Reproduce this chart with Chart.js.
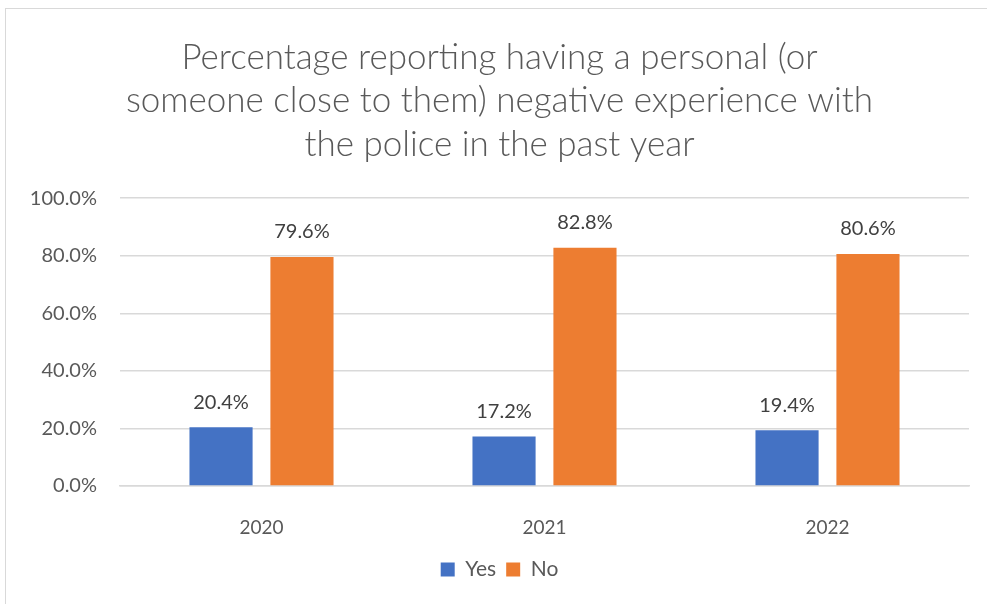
<!DOCTYPE html>
<html>
<head>
<meta charset="utf-8">
<script src="https://cdn.jsdelivr.net/npm/chart.js@4/dist/chart.umd.min.js"></script>
<style>
  html, body { margin: 0; padding: 0; background: #fff; }
  #wrap { position: relative; width: 987px; height: 604px; overflow: hidden; }
  #frame { position: absolute; left: 5px; top: 8px; width: 1000px; height: 700px; border: 1px solid #d9d9d9; box-sizing: border-box; pointer-events: none; }
  canvas { position: absolute; left: 0; top: 0; }
</style>
</head>
<body>
<div id="wrap">
  <div id="frame"></div>
  <canvas id="c" width="987" height="604"></canvas>
</div>
<script>
const titleLines = [
  "Percentage reporting having a personal (or",
  "someone close to them) negative experience with",
  "the police in the past year"
];
const categories = ["2020", "2021", "2022"];
const yesValues = [20.4, 17.2, 19.4];
const noValues = [79.6, 82.8, 80.6];
const seriesNames = ["Yes", "No"];

const FONT = "Lato, 'Open Sans', sans-serif";

const dataLabels = {
  id: 'dataLabels',
  afterDatasetsDraw(chart) {
    const ctx = chart.ctx;
    ctx.save();
    ctx.font = "20px " + FONT;
    ctx.fillStyle = "#404040";
    ctx.textAlign = "center";
    ctx.textBaseline = "middle";
    chart.data.datasets.forEach((ds, i) => {
      const meta = chart.getDatasetMeta(i);
      meta.data.forEach((bar, j) => {
        ctx.fillText(ds.data[j].toFixed(1) + "%", bar.x, bar.y - 25);
      });
    });
    ctx.restore();
  }
};

new Chart(document.getElementById('c'), {
  type: 'bar',
  data: {
    labels: categories,
    datasets: [
      { label: seriesNames[0], data: yesValues, backgroundColor: '#4472C4', categoryPercentage: 0.572, barPercentage: 0.78 },
      { label: seriesNames[1], data: noValues, backgroundColor: '#ED7D31', categoryPercentage: 0.572, barPercentage: 0.78 }
    ]
  },
  options: {
    responsive: false,
    animation: false,
    layout: { padding: { left: 30, right: 18, top: 0, bottom: 14 } },
    plugins: {
      title: {
        display: true,
        text: titleLines,
        color: '#595959',
        font: { family: FONT, size: 35, weight: '300', lineHeight: 1.24 },
        padding: { top: 36, bottom: 32 }
      },
      legend: {
        position: 'bottom',
        labels: {
          color: '#595959',
          font: { family: FONT, size: 21 },
          boxWidth: 14, boxHeight: 14, padding: 10
        }
      },
      tooltip: { enabled: false }
    },
    scales: {
      x: {
        grid: { display: false },
        border: { color: '#d9d9d9', width: 1.5 },
        ticks: { color: '#595959', font: { family: FONT, size: 19 }, padding: 22 },
        afterFit(s) { s.height = 63; }
      },
      y: {
        min: 0, max: 100,
        ticks: {
          stepSize: 20,
          color: '#595959',
          font: { family: FONT, size: 20 },
          padding: 23,
          callback: v => v.toFixed(1) + '%'
        },
        grid: { color: '#d9d9d9', lineWidth: 1.5, drawTicks: false },
        border: { display: false },
        afterFit(s) { s.width = 90; }
      }
    }
  },
  plugins: [dataLabels]
});
</script>
</body>
</html>
